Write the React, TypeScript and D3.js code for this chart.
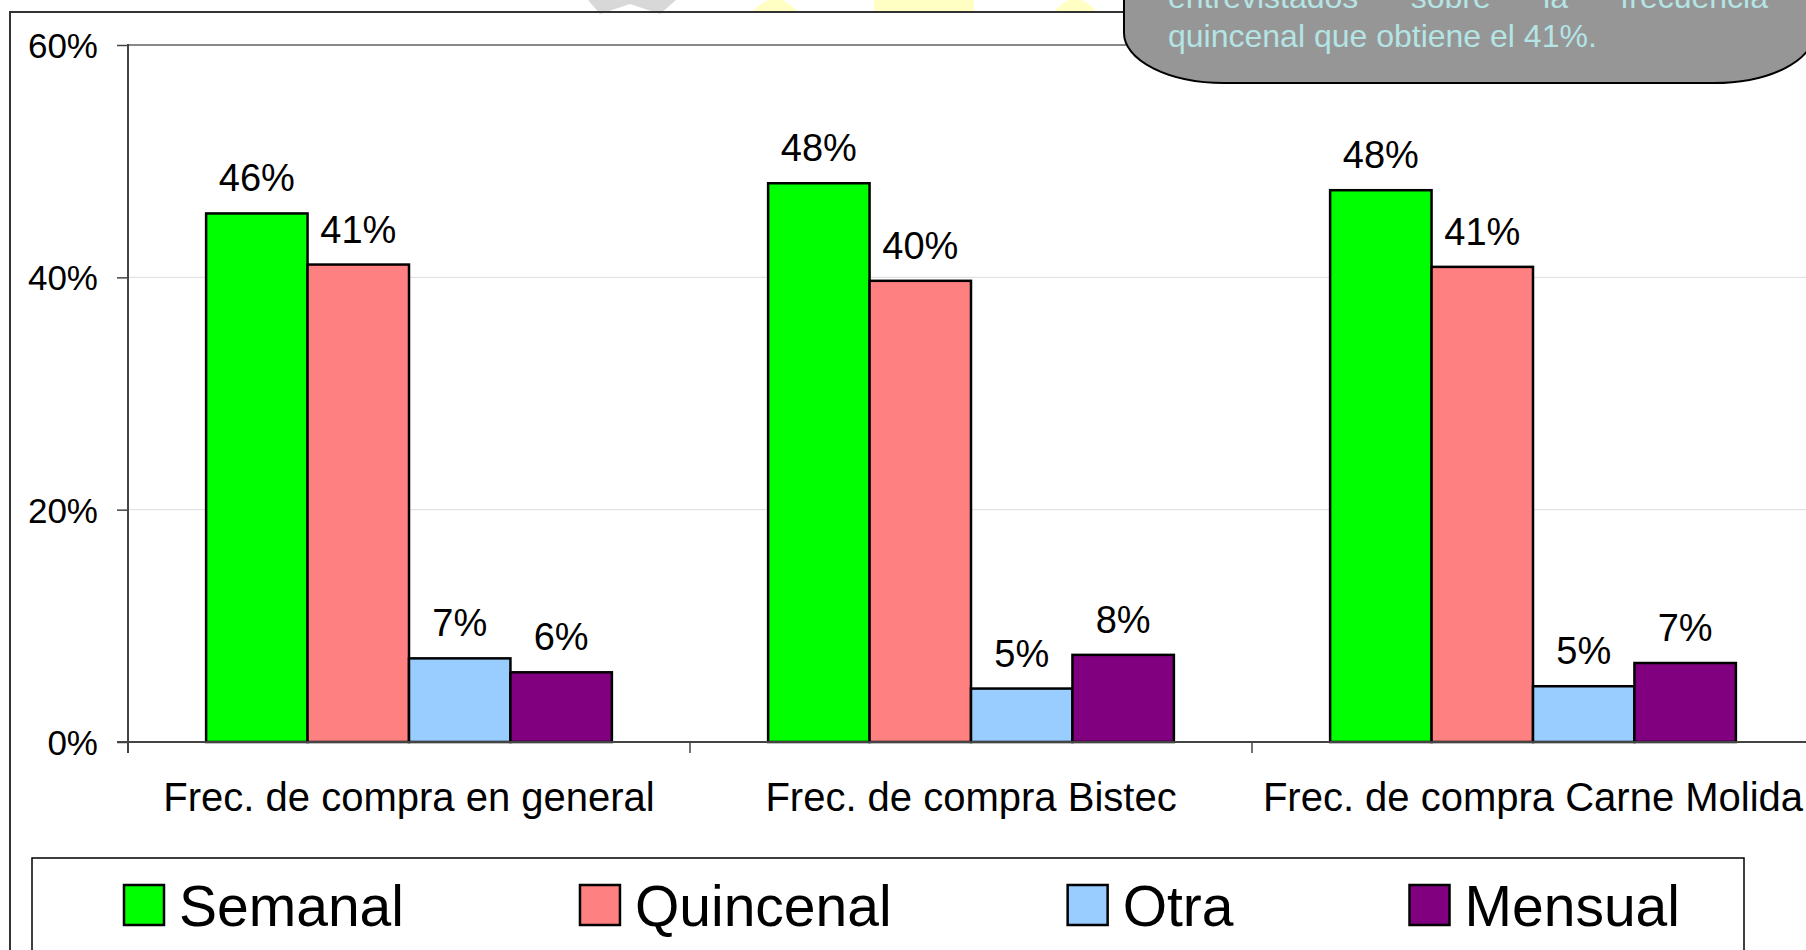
import React, { useRef, useEffect } from 'react';
import * as d3 from 'd3';

const categories = ['Frec. de compra en general', 'Frec. de compra Bistec', 'Frec. de compra Carne Molida'];
const seriesNames = ['Semanal', 'Quincenal', 'Otra', 'Mensual'];
const seriesColors = ['#00ff00', '#ff8080', '#99ccff', '#800080'];

const semanal = [45.5, 48.1, 47.5];
const quincenal = [41.1, 39.7, 40.9];
const otra = [7.2, 4.6, 4.8];
const mensual = [6.0, 7.5, 6.8];

const semanalLabels = ['46%', '48%', '48%'];
const quincenalLabels = ['41%', '40%', '41%'];
const otraLabels = ['7%', '5%', '5%'];
const mensualLabels = ['6%', '8%', '7%'];

const yTicks = [0, 20, 40, 60];
const yTickLabels = ['0%', '20%', '40%', '60%'];

const calloutLines = ['entrevistados sobre la frecuencia', 'quincenal que obtiene el 41%.'];

const FONT = '"Liberation Sans", Arial, Helvetica, sans-serif';

const App = () => {
  const svgRef = useRef<SVGSVGElement>(null);

  useEffect(() => {
    const svg = d3.select(svgRef.current);
    svg.selectAll('*').remove();

    const W = 1806;
    const H = 950;
    const left = 128;
    const bottom = 742;
    const top = 45;

    const values = [semanal, quincenal, otra, mensual];
    const labels = [semanalLabels, quincenalLabels, otraLabels, mensualLabels];

    const x0 = d3.scaleBand<string>()
      .domain(categories)
      .range([left, left + 3 * 562])
      .paddingInner(0.278)
      .paddingOuter(0.139);

    const x1 = d3.scaleBand<string>()
      .domain(seriesNames)
      .range([0, x0.bandwidth()]);

    const y = d3.scaleLinear().domain([0, 60]).range([bottom, top]);

    svg.append('rect').attr('width', W).attr('height', H).attr('fill', '#fff');

    // faint watermark pieces peeking above the frame
    const wm = svg.append('g');
    wm.append('path').attr('d', 'M588,0 L640,0 L676,0 L660,14 L630,4 L600,14 Z').attr('fill', '#d8d8d8');
    wm.append('path').attr('d', 'M752,12 Q775,-14 798,12 Z').attr('fill', '#ffffc4');
    wm.append('rect').attr('x', 874).attr('y', 0).attr('width', 100).attr('height', 12).attr('fill', '#ffffc4');
    wm.append('path').attr('d', 'M1054,12 Q1075,-14 1097,12 Z').attr('fill', '#ffffc4');

    // outer frame
    svg.append('path')
      .attr('d', `M10,${H} L10,12 L${W},12`)
      .attr('fill', 'none').attr('stroke', '#333').attr('stroke-width', 2);

    // gridlines
    svg.append('g')
      .selectAll('line')
      .data(yTicks.filter(t => t > 0 && t < 60))
      .enter().append('line')
      .attr('x1', left).attr('x2', W)
      .attr('y1', d => y(d)).attr('y2', d => y(d))
      .attr('stroke', '#dcdcdc').attr('stroke-width', 1);

    svg.append('line')
      .attr('x1', left).attr('x2', W)
      .attr('y1', y(60)).attr('y2', y(60))
      .attr('stroke', '#888').attr('stroke-width', 2);

    // bars
    const groups = svg.append('g')
      .selectAll('g')
      .data(categories)
      .enter().append('g')
      .attr('transform', d => `translate(${x0(d)},0)`);

    const rows = (ci: number) => seriesNames.map((s, si) => ({ s, si, v: values[si][ci], l: labels[si][ci] }));

    groups.selectAll('rect')
      .data((_, ci) => rows(ci))
      .enter().append('rect')
      .attr('x', d => x1(d.s)!)
      .attr('y', d => y(d.v))
      .attr('width', x1.bandwidth())
      .attr('height', d => bottom - y(d.v))
      .attr('fill', d => seriesColors[d.si])
      .attr('stroke', '#000')
      .attr('stroke-width', 2.5);

    groups.selectAll('text')
      .data((_, ci) => rows(ci))
      .enter().append('text')
      .attr('x', d => x1(d.s)! + x1.bandwidth() / 2)
      .attr('y', d => y(d.v) - 22)
      .attr('text-anchor', 'middle')
      .attr('font-family', FONT)
      .attr('font-size', 38)
      .attr('fill', '#000')
      .text(d => d.l);

    // y axis
    const yAxis = svg.append('g')
      .attr('transform', `translate(${left},0)`)
      .call(d3.axisLeft(y).tickValues(yTicks).tickFormat((_, i) => yTickLabels[i]).tickSize(11).tickPadding(19));
    yAxis.select('.domain').remove();
    yAxis.selectAll('line').attr('stroke', '#444').attr('stroke-width', 1.5);
    yAxis.selectAll('text').attr('font-family', FONT).attr('font-size', 35).attr('fill', '#000').attr('dy', '0.36em');
    svg.append('line')
      .attr('x1', left).attr('x2', left).attr('y1', top - 1).attr('y2', bottom + 11)
      .attr('stroke', '#444').attr('stroke-width', 2);

    // x axis
    const xAxis = svg.append('g')
      .attr('transform', `translate(0,${bottom})`)
      .call(d3.axisBottom(x0).tickSize(0).tickPadding(0));
    xAxis.select('.domain').remove();
    xAxis.selectAll('text')
      .attr('font-family', FONT).attr('font-size', 40).attr('fill', '#000')
      .attr('dy', 0).attr('y', 69);
    svg.append('line')
      .attr('x1', left - 11).attr('x2', W).attr('y1', bottom).attr('y2', bottom)
      .attr('stroke', '#444').attr('stroke-width', 2);
    svg.append('g')
      .selectAll('line')
      .data(categories)
      .enter().append('line')
      .attr('x1', d => x0(d)! - x0.step() * 0.139)
      .attr('x2', d => x0(d)! - x0.step() * 0.139)
      .attr('y1', bottom).attr('y2', bottom + 11)
      .attr('stroke', '#444').attr('stroke-width', 1.5);

    // legend
    svg.append('rect')
      .attr('x', 32).attr('y', 858).attr('width', 1712).attr('height', 200)
      .attr('fill', '#fff').attr('stroke', '#000').attr('stroke-width', 1.5);
    let lx = 124;
    seriesNames.forEach((name, i) => {
      const g = svg.append('g').attr('transform', `translate(${lx},0)`);
      g.append('rect')
        .attr('x', 0).attr('y', 885).attr('width', 40).attr('height', 40)
        .attr('fill', seriesColors[i]).attr('stroke', '#000').attr('stroke-width', 2.5);
      const t = g.append('text')
        .attr('x', 55).attr('y', 926)
        .attr('font-family', FONT).attr('font-size', 57).attr('fill', '#000')
        .text(name);
      const w = (t.node() as SVGTextElement).getComputedTextLength();
      lx += 55 + w + 176;
    });

    // callout
    svg.append('rect')
      .attr('x', 1124).attr('y', -120).attr('width', 690).attr('height', 203)
      .attr('rx', 100).attr('ry', 50)
      .attr('fill', '#969696').attr('stroke', '#000').attr('stroke-width', 2);

    const words = calloutLines[0].split(' ');
    const lineLeft = 1168;
    const lineRight = 1768;
    const tmp = words.map(wd => {
      const t = svg.append('text')
        .attr('y', 8).attr('font-family', FONT).attr('font-size', 32).attr('fill', '#b4e4e4')
        .text(wd);
      return { t, w: (t.node() as SVGTextElement).getComputedTextLength() };
    });
    const total = d3.sum(tmp, d => d.w);
    const gap = (lineRight - lineLeft - total) / (words.length - 1);
    let wx = lineLeft;
    tmp.forEach(d => { d.t.attr('x', wx); wx += d.w + gap; });

    svg.append('text')
      .attr('x', lineLeft).attr('y', 47)
      .attr('font-family', FONT).attr('font-size', 32).attr('fill', '#b4e4e4')
      .text(calloutLines[1]);
  }, []);

  return (
    <svg ref={svgRef} width="1806" height="950" style={{ position: 'absolute', left: 0, top: 0 }}></svg>
  );
};

export default App;
